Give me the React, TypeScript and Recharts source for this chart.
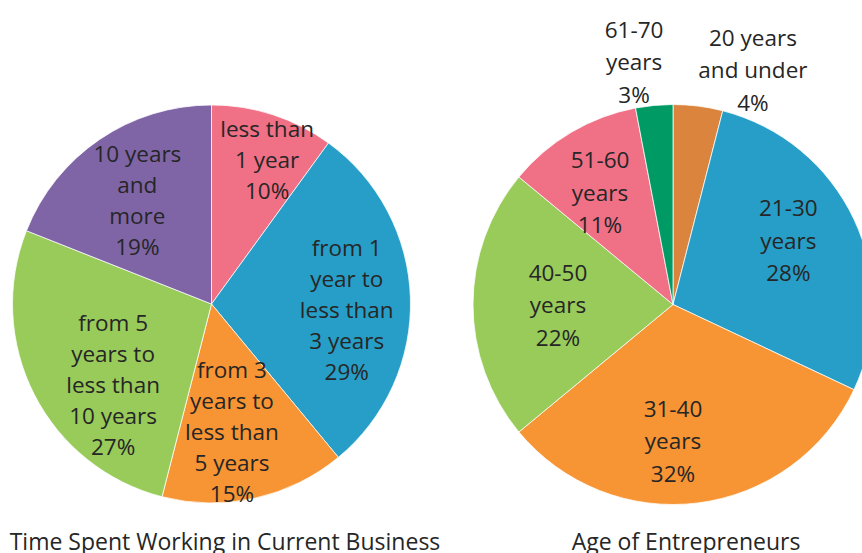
import { PieChart, Pie, Cell } from 'recharts';

const TENURE_LABELS = [
  ['less than', '1 year'],
  ['from 1', 'year to', 'less than', '3 years'],
  ['from 3', 'years to', 'less than', '5 years'],
  ['from 5', 'years to', 'less than', '10 years'],
  ['10 years', 'and', 'more'],
];
const TENURE_VALUES = [10, 29, 15, 27, 19];
const TENURE_COLORS = ['#F07086', '#279EC7', '#F79433', '#98CB5A', '#7F65A6'];

const AGE_LABELS = [
  ['20 years', 'and under'],
  ['21-30', 'years'],
  ['31-40', 'years'],
  ['40-50', 'years'],
  ['51-60', 'years'],
  ['61-70', 'years'],
];
const AGE_VALUES = [4, 28, 32, 22, 11, 3];
const AGE_COLORS = ['#DA843D', '#279EC7', '#F79433', '#98CB5A', '#F07086', '#009B64'];

const TITLES = ['Time Spent Working in Current Business', 'Age of Entrepreneurs'];

// label placement: [radius factor, angle nudge in degrees clockwise]
const TENURE_LABEL_POS = [[0.78, 3], [0.68, 4], [0.65, 3.5], [0.64, -12.4], [0.64, -1.4]];
const AGE_LABEL_POS = [[1.24, 11.6], [0.66, -3.9], [0.68, 7.2], [0.575, 0], [0.67, -2.4], [1.23, -3.7]];

const tenureData = TENURE_VALUES.map((v, i) => ({ name: TENURE_LABELS[i].join(' '), value: v, lines: TENURE_LABELS[i] }));
const ageData = AGE_VALUES.map((v, i) => ({ name: AGE_LABELS[i].join(' '), value: v, lines: AGE_LABELS[i] }));

const FONT = '"Open Sans", sans-serif';
const RAD = Math.PI / 180;

function makeLabel(pos: number[][], lineH: number) {
  return (props: any) => {
    const { cx, cy, midAngle, outerRadius, index, value, payload } = props;
    const [f, nudge] = pos[index];
    const a = (midAngle - nudge) * RAD;
    const x = cx + outerRadius * f * Math.cos(a);
    const y = cy - outerRadius * f * Math.sin(a);
    const lines = [...(payload.lines || []), `${value}%`];
    const n = lines.length;
    return (
      <text x={x} y={y} textAnchor="middle" fill="#262626" fontSize={22.5} fontFamily={FONT}>
        {lines.map((l: string, i: number) => (
          <tspan key={i} x={x} y={y + (i - (n - 1) / 2) * lineH} dominantBaseline="central">{l}</tspan>
        ))}
      </text>
    );
  };
}

export default function App() {
  return (
    <div style={{ position: 'absolute', left: 0, top: 0, width: 862, height: 553, background: '#fff', overflow: 'hidden' }}>
      <PieChart width={862} height={553} margin={{ top: 0, right: 0, bottom: 0, left: 0 }}>
        <Pie
          data={tenureData}
          dataKey="value"
          nameKey="name"
          cx={211.5}
          cy={304}
          outerRadius={199}
          startAngle={90}
          endAngle={-270}
          stroke="#fff"
          strokeWidth={0.75}
          labelLine={false}
          label={makeLabel(TENURE_LABEL_POS, 31)}
          isAnimationActive={false}
        >
          {tenureData.map((d, i) => <Cell key={d.name} fill={TENURE_COLORS[i]} />)}
        </Pie>
        <Pie
          data={ageData}
          dataKey="value"
          nameKey="name"
          cx={673}
          cy={304.5}
          outerRadius={200}
          startAngle={90}
          endAngle={-270}
          stroke="#fff"
          strokeWidth={0.75}
          labelLine={false}
          label={makeLabel(AGE_LABEL_POS, 32.5)}
          isAnimationActive={false}
        >
          {ageData.map((d, i) => <Cell key={d.name} fill={AGE_COLORS[i]} />)}
        </Pie>
      </PieChart>
      <svg width={862} height={553} style={{ position: 'absolute', left: 0, top: 0, pointerEvents: 'none' }}>
        <text x={225} y={550} textAnchor="middle" fontFamily={FONT} fontSize={23} fill="#262626">{TITLES[0]}</text>
        <text x={686} y={550} textAnchor="middle" fontFamily={FONT} fontSize={23} fill="#262626">{TITLES[1]}</text>
      </svg>
    </div>
  );
}
